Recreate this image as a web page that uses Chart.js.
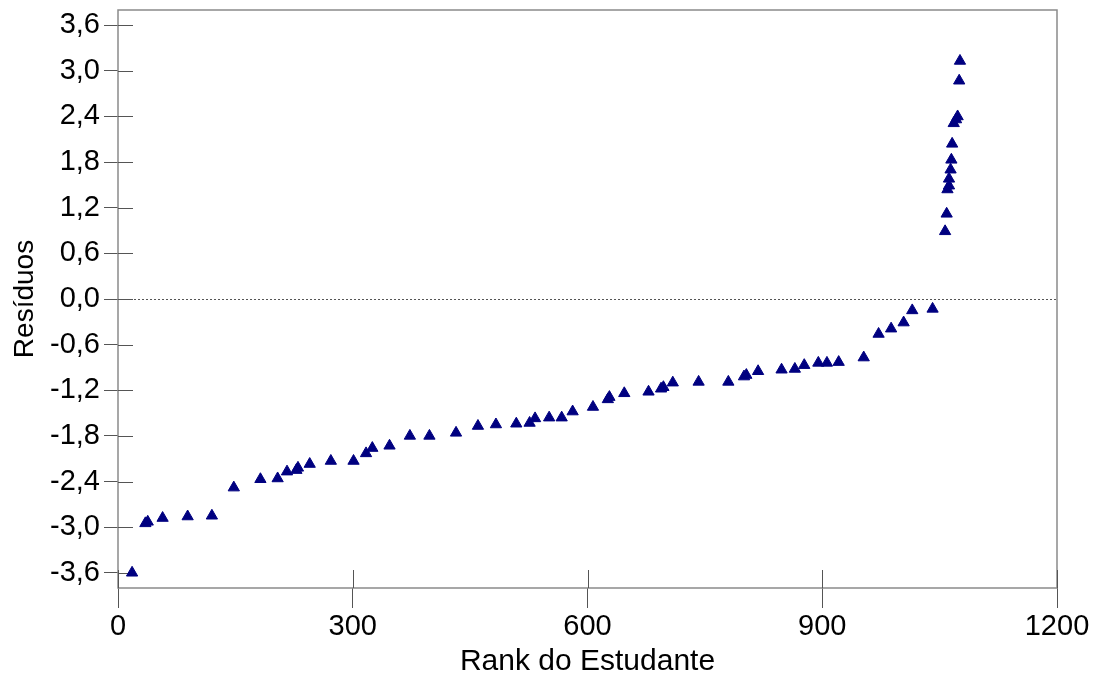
<!DOCTYPE html>
<html>
<head>
<meta charset="utf-8">
<script src="https://cdn.jsdelivr.net/npm/chart.js@4"></script>
<style>
  html, body { margin: 0; padding: 0; background: #fff; }
  canvas { display: block; }
</style>
</head>
<body>
<canvas id="residuosChart" width="1098" height="677"></canvas>
<script>
// rank of each student (x) and its residual (y)
const ranks = [
  18, 35, 38, 57, 89, 120, 148, 182, 204, 216, 228, 230, 245, 272, 301, 317, 325,
  347, 373, 398, 432, 460, 483, 509, 526, 533, 551, 567, 581, 607, 626, 628, 647,
  678, 694, 697, 709, 742, 780, 800, 803, 818, 848, 865, 877, 895, 906, 921, 953,
  972, 988, 1004, 1015, 1041, 1057, 1059, 1060, 1062, 1062, 1064, 1065, 1066, 1068,
  1071, 1073, 1075, 1076
];
const residuos = [
  -3.60, -2.95, -2.93, -2.88, -2.86, -2.85, -2.48, -2.37, -2.36, -2.27, -2.25, -2.22,
  -2.17, -2.13, -2.13, -2.03, -1.96, -1.93, -1.80, -1.80, -1.76, -1.67, -1.65, -1.64,
  -1.63, -1.57, -1.56, -1.56, -1.48, -1.42, -1.32, -1.29, -1.24, -1.22, -1.18, -1.16,
  -1.10, -1.09, -1.09, -1.02, -1.00, -0.95, -0.93, -0.92, -0.87, -0.84, -0.84, -0.83,
  -0.77, -0.46, -0.39, -0.31, -0.15, -0.13, 0.89, 1.12, 1.44, 1.49, 1.58, 1.70,
  1.83, 2.04, 2.31, 2.36, 2.40, 2.87, 3.13
];
const xTicks = [0, 300, 600, 900, 1200];
const yTicks = [-3.6, -3.0, -2.4, -1.8, -1.2, -0.6, 0.0, 0.6, 1.2, 1.8, 2.4, 3.0, 3.6];
const zeroLine = 0;

const fontFamily = "'Liberation Sans', Arial, sans-serif";

// frame, dotted zero line and the short tick marks that reach into the plot
const frameAndTicks = {
  id: "frameAndTicks",
  beforeDatasetsDraw(chart) {
    const { ctx, chartArea: a, scales } = chart;
    ctx.save();
    const y0 = Math.round(scales.y.getPixelForValue(zeroLine)) + 0.5;
    ctx.strokeStyle = "#555";
    ctx.lineWidth = 1;
    ctx.setLineDash([2, 2]);
    ctx.beginPath();
    ctx.moveTo(a.left, y0);
    ctx.lineTo(a.right, y0);
    ctx.stroke();
    ctx.setLineDash([]);

    ctx.strokeStyle = "#8a8a8a";
    ctx.lineWidth = 1.5;
    ctx.strokeRect(a.left, a.top, a.right - a.left, a.bottom - a.top);

    ctx.strokeStyle = "#555";
    ctx.lineWidth = 1;
    ctx.beginPath();
    scales.y.ticks.forEach((t) => {
      const y = Math.round(scales.y.getPixelForValue(t.value)) + 0.5;
      ctx.moveTo(a.left, y);
      ctx.lineTo(a.left + 15, y);
    });
    scales.x.ticks.forEach((t) => {
      const x = Math.round(scales.x.getPixelForValue(t.value)) + 0.5;
      ctx.moveTo(x, a.bottom);
      ctx.lineTo(x, a.bottom - 18);
    });
    ctx.stroke();
    ctx.restore();
  },
};

const ctx = document.getElementById("residuosChart").getContext("2d");
new Chart(ctx, {
  type: "scatter",
  data: {
    datasets: [
      {
        label: "Resíduos",
        data: ranks.map((r, i) => ({ x: r, y: residuos[i] })),
        pointStyle: "triangle",
        pointRadius: 6.5,
        pointHoverRadius: 6.5,
        backgroundColor: "#000080",
        borderColor: "#000080",
        borderWidth: 1,
      },
    ],
  },
  options: {
    responsive: false,
    devicePixelRatio: 1,
    animation: false,
    layout: { padding: { top: 10, right: 41, left: 0, bottom: 0 } },
    plugins: {
      legend: { display: false },
      tooltip: { enabled: false },
    },
    scales: {
      x: {
        type: "linear",
        min: 0,
        max: 1200,
        afterBuildTicks: (scale) => {
          scale.ticks = xTicks.map((v) => ({ value: v }));
        },
        afterFit: (scale) => {
          scale.height = 89;
          scale.paddingLeft = 0;
          scale.paddingRight = 0;
        },
        grid: { drawOnChartArea: false, drawTicks: true, tickLength: 20, color: "#555" },
        border: { display: false },
        ticks: {
          color: "#000",
          padding: 2,
          maxRotation: 0,
          font: { family: fontFamily, size: 29 },
          callback: (v) => String(v),
        },
        title: {
          display: true,
          text: "Rank do Estudante",
          color: "#000",
          padding: { top: 0, bottom: 0 },
          font: { family: fontFamily, size: 30, lineHeight: 1 },
        },
      },
      y: {
        type: "linear",
        min: -3.8,
        max: 3.8,
        afterBuildTicks: (scale) => {
          scale.ticks = yTicks.map((v) => ({ value: v }));
        },
        afterFit: (scale) => {
          scale.width = 118;
          scale.paddingTop = 0;
          scale.paddingBottom = 0;
        },
        grid: { drawOnChartArea: false, drawTicks: true, tickLength: 14, color: "#555" },
        border: { display: false },
        ticks: {
          color: "#000",
          padding: 4,
          font: { family: fontFamily, size: 29 },
          callback: (v) => v.toFixed(1).replace(".", ","),
        },
        title: {
          display: true,
          text: "Resíduos",
          color: "#000",
          padding: { top: 8, bottom: 0 },
          font: { family: fontFamily, size: 28, lineHeight: 1.2 },
        },
      },
    },
  },
  plugins: [frameAndTicks],
});
</script>
</body>
</html>
